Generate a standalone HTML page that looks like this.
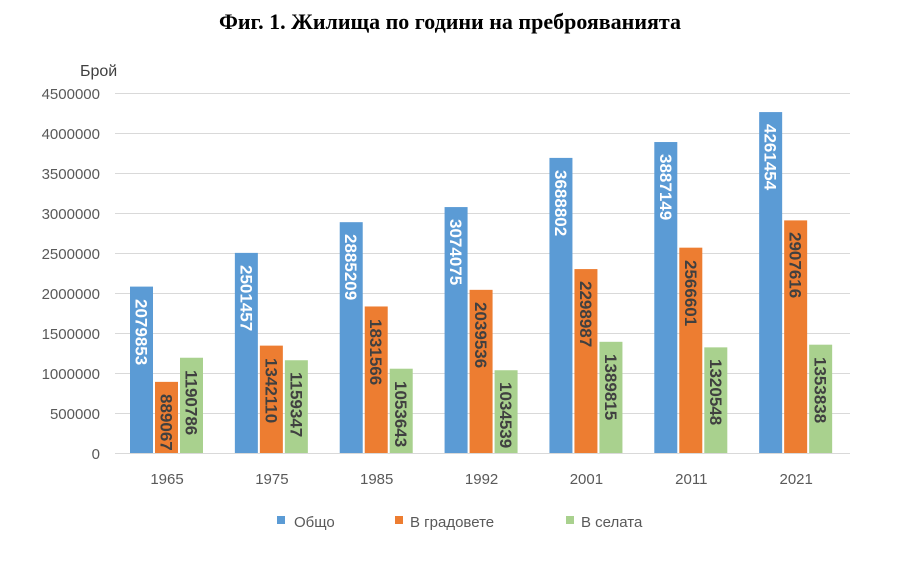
<!DOCTYPE html>
<html><head><meta charset="utf-8"><style>
body{margin:0;background:#fff;}
svg text{font-family:"Liberation Sans",sans-serif;}
.lb{font-size:17px;font-weight:bold;}
.w{fill:#fff}.d{fill:#404040}
</style></head><body>
<svg width="900" height="556" viewBox="0 0 900 556" xmlns="http://www.w3.org/2000/svg">
<rect width="900" height="556" fill="#fff"/>
<text x="450" y="29" text-anchor="middle" style="font-family:'Liberation Serif',serif;font-weight:bold;font-size:22px" fill="#000">Фиг. 1. Жилища по години на преброяванията</text>
<text x="80" y="76" font-size="16" fill="#404040">Брой</text>
<g stroke="#d9d9d9" stroke-width="1">
<line x1="115" x2="850" y1="93.5" y2="93.5"/><line x1="115" x2="850" y1="133.5" y2="133.5"/>
<line x1="115" x2="850" y1="173.5" y2="173.5"/><line x1="115" x2="850" y1="213.5" y2="213.5"/>
<line x1="115" x2="850" y1="253.5" y2="253.5"/><line x1="115" x2="850" y1="293.5" y2="293.5"/>
<line x1="115" x2="850" y1="333.5" y2="333.5"/><line x1="115" x2="850" y1="373.5" y2="373.5"/>
<line x1="115" x2="850" y1="413.5" y2="413.5"/><line x1="115" x2="850" y1="453.5" y2="453.5"/>
</g>
<g font-size="15" fill="#595959" text-anchor="end">
<text x="100" y="99">4500000</text><text x="100" y="139">4000000</text><text x="100" y="179">3500000</text>
<text x="100" y="219">3000000</text><text x="100" y="259">2500000</text><text x="100" y="299">2000000</text>
<text x="100" y="339">1500000</text><text x="100" y="379">1000000</text><text x="100" y="419">500000</text>
<text x="100" y="459">0</text>
</g>
<g fill="#5b9bd5">
<rect x="130" y="286.61" width="23" height="166.39"/>
<rect x="234.86" y="252.88" width="23" height="200.12"/>
<rect x="339.72" y="222.18" width="23" height="230.82"/>
<rect x="444.58" y="207.07" width="23" height="245.93"/>
<rect x="549.44" y="157.90" width="23" height="295.10"/>
<rect x="654.3" y="142.03" width="23" height="310.97"/>
<rect x="759.16" y="112.08" width="23" height="340.92"/>
</g>
<g fill="#ed7d31">
<rect x="155" y="381.87" width="23" height="71.13"/>
<rect x="259.86" y="345.63" width="23" height="107.37"/>
<rect x="364.72" y="306.47" width="23" height="146.53"/>
<rect x="469.58" y="289.84" width="23" height="163.16"/>
<rect x="574.44" y="269.08" width="23" height="183.92"/>
<rect x="679.3" y="247.67" width="23" height="205.33"/>
<rect x="784.16" y="220.39" width="23" height="232.61"/>
</g>
<g fill="#a9d18e">
<rect x="180" y="357.74" width="23" height="95.26"/>
<rect x="284.86" y="360.25" width="23" height="92.75"/>
<rect x="389.72" y="368.71" width="23" height="84.29"/>
<rect x="494.58" y="370.24" width="23" height="82.76"/>
<rect x="599.44" y="341.81" width="23" height="111.19"/>
<rect x="704.3" y="347.36" width="23" height="105.64"/>
<rect x="809.16" y="344.69" width="23" height="108.31"/>
</g>
<g class="lb">
<text class="w" transform="translate(135.5,299) rotate(90)">2079853</text>
<text class="w" transform="translate(240.4,265) rotate(90)">2501457</text>
<text class="w" transform="translate(345.2,234) rotate(90)">2885209</text>
<text class="w" transform="translate(450.1,219) rotate(90)">3074075</text>
<text class="w" transform="translate(554.9,170) rotate(90)">3688802</text>
<text class="w" transform="translate(659.8,154) rotate(90)">3887149</text>
<text class="w" transform="translate(764.7,124) rotate(90)">4261454</text>
<text class="d" transform="translate(160.5,394) rotate(90)">889067</text>
<text class="d" transform="translate(265.4,358) rotate(90)">1342110</text>
<text class="d" transform="translate(370.2,319) rotate(90)">1831566</text>
<text class="d" transform="translate(475.1,302) rotate(90)">2039536</text>
<text class="d" transform="translate(579.9,281) rotate(90)">2298987</text>
<text class="d" transform="translate(684.8,260) rotate(90)">2566601</text>
<text class="d" transform="translate(789.7,232) rotate(90)">2907616</text>
<text class="d" transform="translate(185.5,370) rotate(90)">1190786</text>
<text class="d" transform="translate(290.4,372) rotate(90)">1159347</text>
<text class="d" transform="translate(395.2,381) rotate(90)">1053643</text>
<text class="d" transform="translate(500.1,382) rotate(90)">1034539</text>
<text class="d" transform="translate(604.9,354) rotate(90)">1389815</text>
<text class="d" transform="translate(709.8,359) rotate(90)">1320548</text>
<text class="d" transform="translate(814.7,357) rotate(90)">1353838</text>
</g>
<g font-size="15" fill="#595959" text-anchor="middle">
<text x="167" y="484">1965</text><text x="271.9" y="484">1975</text><text x="376.7" y="484">1985</text>
<text x="481.6" y="484">1992</text><text x="586.4" y="484">2001</text><text x="691.3" y="484">2011</text>
<text x="796.2" y="484">2021</text>
</g>
<rect x="277" y="516" width="8" height="8" fill="#5b9bd5"/><text x="294" y="527" font-size="15" fill="#595959">Общо</text>
<rect x="395" y="516" width="8" height="8" fill="#ed7d31"/><text x="410" y="527" font-size="15" fill="#595959">В градовете</text>
<rect x="566" y="516" width="8" height="8" fill="#a9d18e"/><text x="581" y="527" font-size="15" fill="#595959">В селата</text>
</svg>
</body></html>
